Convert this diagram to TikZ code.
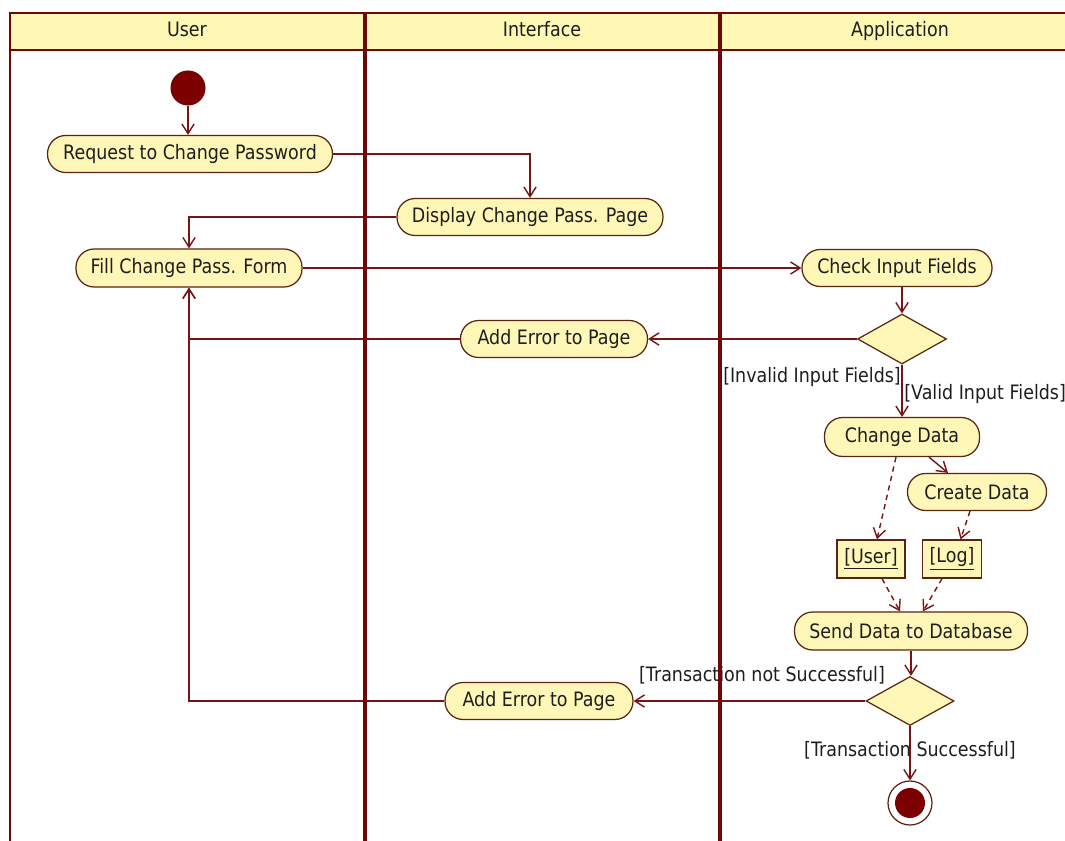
\documentclass[tikz,border=0pt]{standalone}
\usepackage{fontspec}
\setmainfont{DejaVu Sans}[FakeStretch=0.88]
\usetikzlibrary{arrows.meta,shapes.geometric}

\definecolor{lane}{HTML}{6E0808}
\definecolor{flow}{HTML}{781414}
\definecolor{boxfill}{HTML}{FFF7B8}
\definecolor{hdrfill}{HTML}{FFF8B4}
\definecolor{boxline}{HTML}{5A2410}
\definecolor{ink}{HTML}{1E1E1E}
\definecolor{dot}{HTML}{7D0000}

\tikzset{
  txt/.style={text=ink, font=\fontsize{11.3}{13}\selectfont},
  action/.style={txt, rectangle, rounded corners=10.3pt, draw=boxline, line width=0.7pt,
    fill=boxfill, minimum height=0.74cm, inner xsep=2pt},
  object/.style={txt, rectangle, draw=boxline, line width=0.7pt,
    fill=boxfill, minimum height=0.76cm, inner xsep=2pt},
  decision/.style={diamond, draw=boxline, line width=0.7pt, fill=boxfill,
    minimum width=1.78cm, minimum height=1.0cm, inner sep=0pt},
  flowline/.style={draw=flow, line width=0.8pt,
    -{Straight Barb[length=5.5pt,width=7pt]}},
  dataline/.style={flowline, dash pattern=on 3pt off 2.5pt},
  guard/.style={txt, inner sep=0pt},
  lanehead/.style={txt, anchor=base},
  laneline/.style={draw=lane, line width=2.8pt},
  frameline/.style={draw=lane, line width=1.7pt},
}

\begin{document}
\begin{tikzpicture}[x=0.02cm, y=-0.02cm]
\useasboundingbox (0,0) rectangle (1065,841);

% lane header band
\fill[hdrfill] (10,13) rectangle (1065,50);

% start and end
\node[circle, fill=dot, draw=lane, line width=0.6pt, minimum size=0.68cm, inner sep=0pt] (start) at (188,88) {};
\node[circle, draw=boxline, fill=white, line width=0.7pt, minimum size=0.88cm, inner sep=0pt] (end) at (910,803) {};
\fill[dot] (end.center) circle (0.3cm);

% actions
\node[action, minimum width=5.7cm]  (req)    at (190,154) {Request to Change Password};
\node[action, minimum width=5.32cm] (disp)   at (530,217) {Display Change Pass. Page};
\node[action, minimum width=4.52cm, minimum height=0.76cm] (fill) at (189,268) {Fill Change Pass. Form};
\node[action, minimum width=3.8cm]  (check)  at (897,268) {Check Input Fields};
\node[action, minimum width=3.74cm] (err1)   at (554,339) {Add Error to Page};
\node[action, minimum width=3.1cm, minimum height=0.78cm] (change) at (902,437) {Change Data};
\node[action, minimum width=2.78cm] (create) at (977,492) {Create Data};
\node[action, minimum width=4.66cm, minimum height=0.76cm] (send) at (911,631) {Send Data to Database};
\node[action, minimum width=3.76cm] (err2)   at (539,701) {Add Error to Page};

% objects
\node[object, minimum width=1.36cm] (user) at (871,559) {\underline{[User]}};
\node[object, minimum width=1.18cm] (log)  at (952,559) {\underline{[Log]}};

% decisions
\node[decision] (dia1) at (902,339) {};
\node[decision, minimum width=1.76cm, minimum height=0.98cm] (dia2) at (910,701) {};

% guards
\node[guard] (gInvalid) at (812,377) {[Invalid Input Fields]};
\node[guard, anchor=west] (gValid) at (904,394) {[Valid Input Fields]};
\node[guard] (gFail) at (762,675) {[Transaction not Successful]};
\node[guard] (gOk) at (910,750) {[Transaction Successful]};

% control flow
\draw[flowline] (start) -- (start |- req.north);
\draw[flowline] (req.east) -| (disp.north);
\draw[flowline] (disp.west) -| (fill.north);
\draw[flowline] (fill.east) -- (check.west);
\draw[flowline] (dia1.north |- check.south) -- (dia1.north);
\draw[flowline] (dia1.west) -- (err1.east);
\draw[flowline] (err1.west) -| (fill.south);
\draw[flowline] (dia1.south) -- (dia1.south |- change.north);
\draw[flowline] ([xshift=0.54cm]change.south) -- ([xshift=-0.58cm]create.north);
\draw[flowline] (send.south) -- (send.south |- dia2.north);
\draw[flowline] (dia2.west) -- (err2.east);
\draw[flowline] (err2.west) -| (fill.south);
\draw[flowline] (dia2.south) -- (end.north);

% object flow
\draw[dataline] ([xshift=-0.12cm]change.south) -- ([xshift=0.12cm]user.north);
\draw[dataline] ([xshift=-0.14cm]create.south) -- ([xshift=0.17cm]log.north);
\draw[dataline] ([xshift=0.22cm]user.south) -- ([xshift=-0.22cm]send.north);
\draw[dataline] ([xshift=-0.2cm]log.south) -- ([xshift=0.24cm]send.north);

% swimlane frame
\draw[frameline] (10,841) -- (10,13) -- (1065,13);
\draw[frameline] (10,50) -- (1065,50);
\draw[laneline] (365,13) -- (365,841);
\draw[laneline] (720,13) -- (720,841);

% lane titles
\node[lanehead] (hUser) at (187,37) {User};
\node[lanehead] (hIface) at (542,37) {Interface};
\node[lanehead] (hApp) at (900,37) {Application};
\end{tikzpicture}
\end{document}
